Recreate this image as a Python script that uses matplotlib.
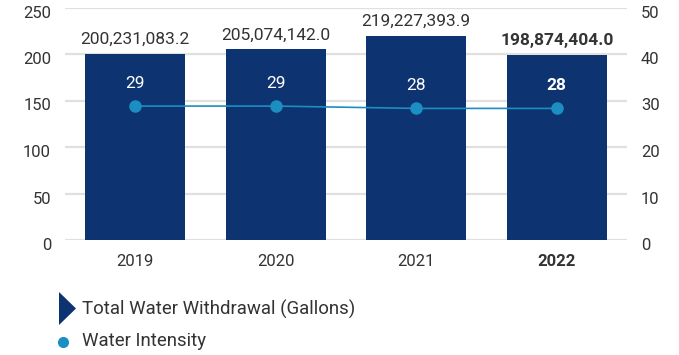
import matplotlib
matplotlib.use("Agg")
import matplotlib.pyplot as plt
import matplotlib.transforms as mtrans
from matplotlib.patches import Polygon
from matplotlib.lines import Line2D

plt.rcParams['font.family'] = ['Roboto', 'DejaVu Sans']

years = ["2019", "2020", "2021", "2022"]
withdrawal_millions = [200.2310832, 205.074142, 219.2273939, 198.874404]
withdrawal_labels = ["200,231,083.2", "205,074,142.0", "219,227,393.9", "198,874,404.0"]
intensity = [28.8, 28.8, 28.3, 28.3]
intensity_labels = ["29", "29", "28", "28"]
left_ticks = [0, 50, 100, 150, 200, 250]
right_ticks = [0, 10, 20, 30, 40, 50]

bar_color = "#0d3370"
line_color = "#1b8fc2"
text_color = "#333333"
W, H = 679, 355

fig = plt.figure(figsize=(W / 100, H / 100), dpi=100)
ax = fig.add_axes([65 / W, 1 - 240 / H, (627 - 65) / W, (240 - 7.5) / H])
ax2 = ax.twinx()

x = list(range(len(years)))
ax.bar(x, withdrawal_millions, width=0.71, color=bar_color, zorder=2)
ax.set_xlim(-0.5, 3.5)
ax.set_ylim(0, 250)
ax.set_yticks(left_ticks)
ax.grid(axis='y', color='#e0e0e0', linewidth=1.6, zorder=0)
ax.set_axisbelow(True)
for s in ax.spines.values():
    s.set_visible(False)
for s in ax2.spines.values():
    s.set_visible(False)
ax.tick_params(axis='both', length=0, labelsize=12, colors=text_color)
ax.tick_params(axis='y', pad=10)
ax.tick_params(axis='x', pad=10)
ax.set_xticks(x)
ax.set_xticklabels(years)
ax.get_xticklabels()[-1].set_fontweight('bold')

for i, (v, lab) in enumerate(zip(withdrawal_millions, withdrawal_labels)):
    ax.annotate(lab, (i, v), xytext=(0, 5), textcoords='offset points',
                ha='center', va='bottom', fontsize=12.5, color=text_color,
                fontweight='bold' if i == len(years) - 1 else 'normal')

ax2.plot(x, intensity, color=line_color, linewidth=1.2, marker='o',
         markersize=8, markerfacecolor=line_color, markeredgecolor=line_color, zorder=3)
ax2.set_ylim(0, 50)
ax2.set_yticks(right_ticks)
ax2.tick_params(axis='y', length=0, labelsize=12, colors=text_color, pad=10)
for i, (v, lab) in enumerate(zip(intensity, intensity_labels)):
    ax2.annotate(lab, (i, v), xytext=(0, 11), textcoords='offset points',
                 ha='center', va='bottom', fontsize=12.5, color='white',
                 fontweight='bold' if i == len(years) - 1 else 'normal')

# shift y tick labels slightly below gridlines, as in the reference
off = mtrans.ScaledTranslation(0, -4 / 100, fig.dpi_scale_trans)
for lab in ax.get_yticklabels() + ax2.get_yticklabels():
    lab.set_transform(lab.get_transform() + off)

# Legend
tri = Polygon([(59 / W, 1 - 292 / H), (76 / W, 1 - 308.5 / H), (59 / W, 1 - 325 / H)],
              closed=True, transform=fig.transFigure, facecolor=bar_color, edgecolor='none')
fig.add_artist(tri)
fig.text(82 / W, 1 - 309 / H, "Total Water Withdrawal (Gallons)", ha='left', va='center',
         fontsize=13.4, color=text_color)
fig.add_artist(Line2D([63 / W], [1 - 341.5 / H], marker='o', markersize=7,
                      color=line_color, transform=fig.transFigure, linestyle='none'))
fig.text(82 / W, 1 - 341.5 / H, "Water Intensity", ha='left', va='center',
         fontsize=13.4, color=text_color)

fig.savefig("out.png", dpi=100)
